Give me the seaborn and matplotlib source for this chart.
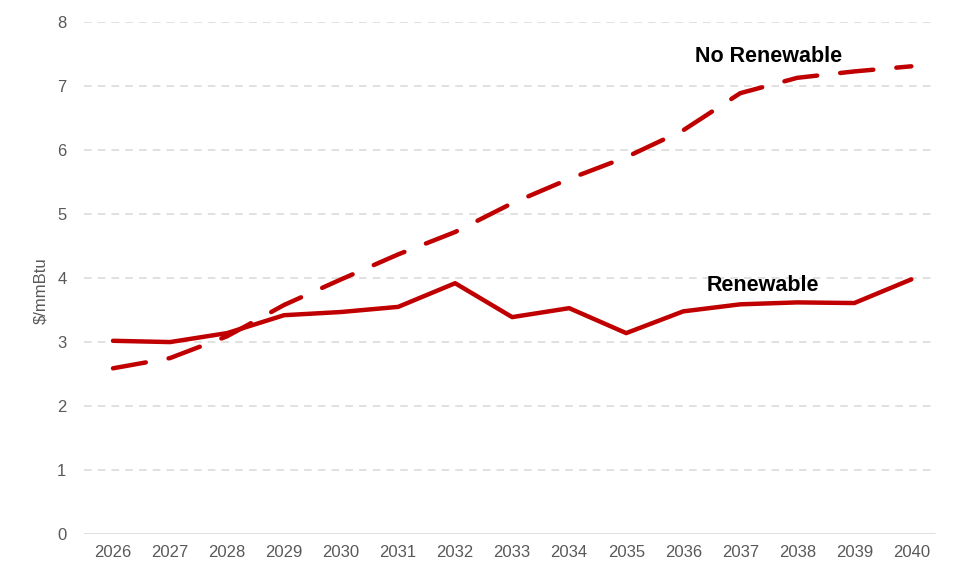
import matplotlib
matplotlib.use("Agg")
import matplotlib.pyplot as plt
import numpy as np
import pandas as pd
import seaborn as sns

# data
years = list(range(2026, 2041))
renewable = [3.02, 3.00, 3.14, 3.42, 3.47, 3.55, 3.92, 3.39, 3.53, 3.14,
             3.48, 3.59, 3.62, 3.61, 3.98]
no_renewable = [2.59, 2.75, 3.09, 3.58, 3.98, 4.37, 4.72, 5.17, 5.55, 5.89,
                6.31, 6.89, 7.13, 7.23, 7.31]
y_ticks = [0, 1, 2, 3, 4, 5, 6, 7, 8]

red = "#C00000"
grey = "#595959"

df = pd.DataFrame({"year": years, "Renewable": renewable, "No Renewable": no_renewable})

sns.set_style("white")
plt.rcParams["font.family"] = ["Liberation Sans", "DejaVu Sans"]

fig = plt.figure(figsize=(9.6, 5.83), dpi=100)
ax = fig.add_axes([0.088, 0.084, 0.891, 0.878])

# gridlines
for t in y_ticks[1:]:
    ax.axhline(t, xmax=0.994, color="#D9D9D9", lw=1.1, ls=(0, (5, 4)), zorder=0)
ax.axhline(0, xmax=0.994, color="#D9D9D9", lw=1.2, zorder=0)

sns.lineplot(data=df, x="year", y="Renewable", color=red, lw=3.2, ax=ax,
             solid_capstyle="round", solid_joinstyle="round")
sns.lineplot(data=df, x="year", y="No Renewable", color=red, lw=3.2, ax=ax,
             dashes=False)
ax.lines[-1].set_linestyle((0, (7.5, 5.2)))
ax.lines[-1].set_dash_capstyle("round")

ax.text(2037.5, 7.46, "No Renewable", ha="center", va="center", fontsize=15.5,
        fontweight="bold", color="black")
ax.text(2037.4, 3.88, "Renewable", ha="center", va="center", fontsize=15.5,
        fontweight="bold", color="black")

ax.set_xlim(2025.5, 2040.5)
ax.set_ylim(0, 8)
ax.set_xticks(years)
ax.set_xticklabels([str(y) for y in years])
ax.set_yticks(y_ticks)
ax.tick_params(axis="both", length=0, labelsize=12, labelcolor=grey)
ax.tick_params(axis="x", pad=8)
ax.tick_params(axis="y", pad=13)
ax.set_xlabel("")
ax.set_ylabel("$/mmBtu", fontsize=12, color=grey)
ax.yaxis.set_label_coords(-0.042, 0.475)
sns.despine(ax=ax, left=True, bottom=True)

fig.savefig("out.png", dpi=100)
